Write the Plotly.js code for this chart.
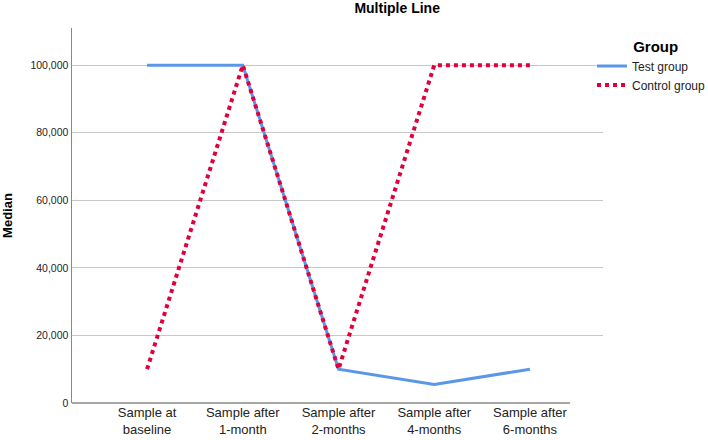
<!DOCTYPE html>
<html>
<head>
<meta charset="utf-8">
<script src="https://cdn.plot.ly/plotly-3.0.1.min.js"></script>
<style>html,body{margin:0;padding:0;background:#fff}#chart{width:708px;height:440px}</style>
</head>
<body>
<div id="chart"></div>
<script>
const categories = ["Sample at<br>baseline", "Sample after<br>1-month", "Sample after<br>2-months", "Sample after<br>4-months", "Sample after<br>6-months"];
const testGroup = [100000, 100000, 10000, 5500, 10000];
const controlGroup = [10000, 100000, 10000, 100000, 100000];
const yTicks = [0, 20000, 40000, 60000, 80000, 100000];

const xIdx = categories.map((c, i) => i);
const traces = [
  {x: xIdx, y: testGroup, name: "Test group", mode: "lines", type: "scatter",
   line: {color: "#5b97e6", width: 3}},
  {x: xIdx, y: controlGroup, name: "Control group", mode: "lines", type: "scatter",
   line: {color: "#e0003c", width: 4, dash: "dot"}}
];
const layout = {
  width: 708, height: 440,
  margin: {l: 72, r: 105, t: 28, b: 37, autoexpand: false},
  paper_bgcolor: "#fff", plot_bgcolor: "#fff",
  font: {family: "Liberation Sans, Arial, sans-serif", size: 11, color: "#222"},
  title: {text: "<b>Multiple Line</b>", font: {size: 14, color: "#000"},
          xref: "container", x: 0.561, xanchor: "center", yref: "container", y: 1 - 3/440, yanchor: "top", pad: {t: 0, b: 0}},
  xaxis: {range: [-0.784, 4.763], tickvals: xIdx, ticktext: categories, showgrid: false,
          showline: false, zeroline: false, ticks: "", tickfont: {size: 13, color: "#222"}},
  yaxis: {range: [0, 111000], tickvals: yTicks, tickformat: ",d", showgrid: true, gridcolor: "#c8c8c8", gridwidth: 1,
          showline: true, linecolor: "#888", linewidth: 1.5, zeroline: false, ticks: "",
          tickfont: {size: 10.5, color: "#222"},
          title: {text: "<b>Median</b>", font: {size: 13, color: "#000"}, standoff: 15}},
  shapes: [{type: "line", xref: "paper", yref: "paper", x0: 0, x1: 0.938, y0: 0, y1: 0,
            line: {color: "#888", width: 1.5}}],
  showlegend: true,
  legend: {xref: "container", x: 592/708, xanchor: "left", yref: "container", y: 1 - 32/440, yanchor: "top",
           bgcolor: "rgba(0,0,0,0)",
           title: {text: "<b>&#160;&#160;Group</b>", font: {size: 15, color: "#000"}, side: "top center"},
           font: {size: 12, color: "#222"}, itemwidth: 30, tracegroupgap: 0}
};
Plotly.newPlot("chart", traces, layout, {staticPlot: true, displayModeBar: false});
</script>
</body>
</html>
